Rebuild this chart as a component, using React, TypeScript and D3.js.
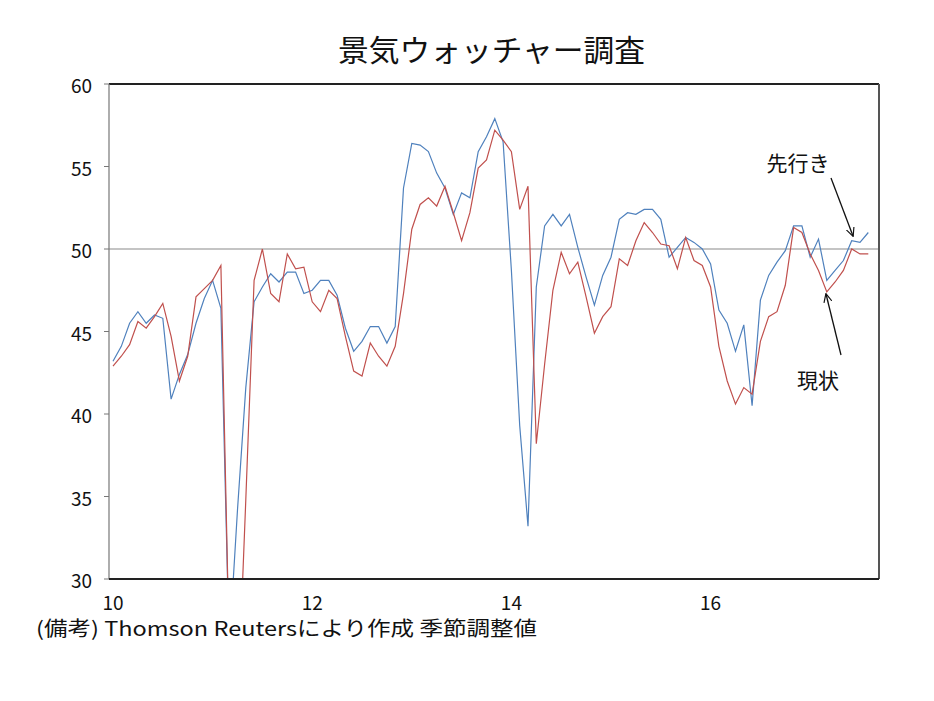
import React from 'react';
import * as d3 from 'd3';

// 現状 (current conditions DI, seasonally adjusted), monthly from Jan 2010
const current = [
  42.9, 43.5, 44.2, 45.6, 45.2, 45.9, 46.7, 44.7, 42.0, 43.5, 47.1, 47.6,
  48.1, 49.0, 25.8, 22.0, 34.8, 48.1, 50.0, 47.3, 46.8, 49.7, 48.8, 48.9,
  46.8, 46.2, 47.5, 47.0, 44.7, 42.6, 42.3, 44.3, 43.5, 42.9, 44.1, 47.3,
  51.2, 52.7, 53.1, 52.6, 53.8, 52.2, 50.5, 52.2, 54.9, 55.4, 57.2, 56.6,
  55.9, 52.4, 53.8, 38.2, 43.0, 47.5, 49.8, 48.5, 49.2, 47.1, 44.9, 45.9,
  46.5, 49.4, 49.0, 50.5, 51.6, 51.0, 50.3, 50.2, 48.8, 50.7, 49.3, 49.0,
  47.7, 44.1, 42.0, 40.6, 41.6, 41.2, 44.4, 45.9, 46.2, 47.8, 51.3, 51.0,
  49.7, 48.7, 47.4, 48.0, 48.7, 50.0, 49.7, 49.7,
];

// 先行き (future conditions DI, seasonally adjusted), monthly from Jan 2010
const future = [
  43.2, 44.1, 45.5, 46.2, 45.5, 46.0, 45.8, 40.9, 42.4, 43.6, 45.5, 47.0,
  48.1, 46.4, 25.9, 34.2, 41.6, 46.8, 47.7, 48.5, 48.0, 48.6, 48.6, 47.3,
  47.5, 48.1, 48.1, 47.2, 45.2, 43.8, 44.4, 45.3, 45.3, 44.3, 45.3, 53.7,
  56.4, 56.3, 55.9, 54.6, 53.7, 52.1, 53.4, 53.1, 55.9, 56.8, 57.9, 56.5,
  48.7, 39.3, 33.2, 47.7, 51.4, 52.1, 51.4, 52.1, 50.1, 48.3, 46.6, 48.4,
  49.5, 51.8, 52.2, 52.1, 52.4, 52.4, 51.8, 49.5, 50.1, 50.7, 50.4, 50.0,
  49.1, 46.3, 45.5, 43.8, 45.4, 40.5, 46.9, 48.4, 49.2, 49.9, 51.4, 51.4,
  49.5, 50.6, 48.1, 48.7, 49.3, 50.5, 50.4, 51.0,
];

const yTicks = [30, 35, 40, 45, 50, 55, 60];
const xTickLabels = ['10', '12', '14', '16'];
const xTickIndex = [0, 24, 48, 72];
const referenceLevel = 50;

const FONT = '"Noto Sans CJK JP", "Noto Sans", sans-serif';

export default function App() {
  const W = 934;
  const H = 701;
  const left = 109;
  const right = 879;
  const top = 84;
  const bottom = 579;

  const x = d3.scaleLinear().domain([0, 91]).range([113, 868.3]);
  const y = d3.scaleLinear().domain([30, 60]).range([bottom, top]);
  const line = d3
    .line<number>()
    .x((_, i) => x(i))
    .y((d) => y(d));

  return (
    <svg
      width={W}
      height={H}
      viewBox={`0 0 ${W} ${H}`}
      style={{ position: 'absolute', left: 0, top: 0, display: 'block', background: '#fff' }}
    >
      <defs>
        <clipPath id="plotClip">
          <rect x={left} y={top} width={right - left} height={bottom - top} />
        </clipPath>
        <marker
          id="arrowHead"
          viewBox="0 0 10 10"
          refX="9"
          refY="5"
          markerWidth="9"
          markerHeight="9"
          orient="auto"
          markerUnits="userSpaceOnUse"
        >
          <path d="M0,0.5 L9.5,5 L0,9.5" fill="none" stroke="#111" strokeWidth="1.3" />
        </marker>
      </defs>

      <rect x={0} y={0} width={W} height={H} fill="#fff" />

      {/* title */}
      <text
        x={491.5}
        y={61}
        textAnchor="middle"
        fontFamily={FONT}
        fontSize={30}
        fill="#111"
        textLength={307}
        lengthAdjust="spacingAndGlyphs"
      >
        景気ウォッチャー調査
      </text>

      {/* reference line at 50 */}
      <line
        x1={left}
        x2={right}
        y1={y(referenceLevel)}
        y2={y(referenceLevel)}
        stroke="#8a8a8a"
        strokeWidth={1.2}
      />

      {/* series */}
      <g clipPath="url(#plotClip)">
        <path d={line(future) || ''} fill="none" stroke="#4f81bd" strokeWidth={1.2} />
        <path d={line(current) || ''} fill="none" stroke="#c0504d" strokeWidth={1.2} />
      </g>

      {/* plot frame */}
      <line x1={left} x2={right} y1={top} y2={top} stroke="#222" strokeWidth={2} />
      <line x1={right} x2={right} y1={top} y2={bottom} stroke="#555" strokeWidth={2} />
      <line x1={left} x2={left} y1={top} y2={bottom} stroke="#777" strokeWidth={1.2} />
      <line x1={left} x2={right} y1={bottom} y2={bottom} stroke="#222" strokeWidth={2} />

      {/* y axis */}
      {yTicks.map((t) => (
        <g key={t}>
          <line x1={left - 5} x2={left} y1={y(t)} y2={y(t)} stroke="#777" strokeWidth={1} />
          <text
            x={92}
            y={y(t) + 9}
            textAnchor="end"
            fontFamily={FONT}
            fontSize={19}
            fill="#111"
          >
            {t}
          </text>
        </g>
      ))}

      {/* x axis labels */}
      {xTickIndex.map((idx, k) => (
        <text
          key={idx}
          x={x(idx)}
          y={610}
          textAnchor="middle"
          fontFamily={FONT}
          fontSize={19}
          fill="#111"
        >
          {xTickLabels[k]}
        </text>
      ))}

      {/* footnote */}
      <text
        x={36}
        y={636}
        fontFamily={FONT}
        fontSize={20}
        fill="#111"
        textLength={501}
        lengthAdjust="spacingAndGlyphs"
      >
        (備考) Thomson Reutersにより作成 季節調整値
      </text>

      {/* annotations */}
      <text x={798} y={171} textAnchor="middle" fontFamily={FONT} fontSize={21} fill="#111">
        先行き
      </text>
      <line
        x1={831}
        y1={178}
        x2={853}
        y2={236}
        stroke="#111"
        strokeWidth={1.3}
        markerEnd="url(#arrowHead)"
      />
      <text x={818} y={388} textAnchor="middle" fontFamily={FONT} fontSize={21} fill="#111">
        現状
      </text>
      <line
        x1={841}
        y1={355}
        x2={826}
        y2={294}
        stroke="#111"
        strokeWidth={1.3}
        markerEnd="url(#arrowHead)"
      />
    </svg>
  );
}
